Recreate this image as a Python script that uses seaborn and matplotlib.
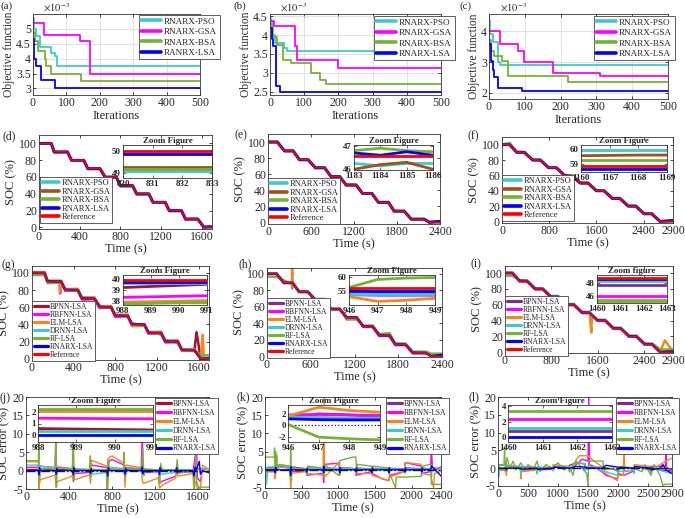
import matplotlib
matplotlib.use("Agg")
import matplotlib.pyplot as plt
from matplotlib.lines import Line2D
from matplotlib.ticker import FuncFormatter
import seaborn as sns

sns.set_theme(style="ticks")
plt.rcParams["font.family"] = ["Liberation Serif", "DejaVu Serif"]
plt.rcParams["mathtext.fontset"] = "stix"
plt.rcParams["xtick.direction"] = "in"
plt.rcParams["ytick.direction"] = "in"

W, H = 685, 518

# ---------------- colours ----------------
C_CYAN = "#3FC9C9"
C_MAG = "#FF00FF"
C_GRN = "#76B235"
C_BLUE = "#0000FF"
C_RED = "#FF0000"
C_BROWN = "#A0501E"
C_MAROON = "#A2142F"
C_PURP = "#7E2F8E"
C_ORNG = "#EE8A1D"

# ---------------- (a)-(c) objective function (x1e-3) ----------------
a_pso_x = [0, 3, 8, 22, 55, 65, 72, 500]
a_pso_y = [5.35, 5.0, 4.75, 4.4, 4.2, 4.1, 3.75, 3.75]
a_gsa_x = [0, 32, 140, 170, 500]
a_gsa_y = [5.2, 4.8, 4.58, 3.5, 3.5]
a_bsa_x = [0, 5, 15, 35, 40, 55, 145, 500]
a_bsa_y = [4.9, 4.6, 4.25, 4.0, 3.75, 3.5, 3.25, 3.25]
a_lsa_x = [0, 3, 10, 25, 65, 500]
a_lsa_y = [4.65, 4.0, 3.75, 3.3, 3.0, 3.0]

b_pso_x = [0, 3, 10, 15, 40, 50, 500]
b_pso_y = [4.45, 4.35, 4.0, 3.8, 3.65, 3.58, 3.58]
b_gsa_x = [0, 12, 72, 80, 200, 500]
b_gsa_y = [4.38, 4.25, 3.7, 3.33, 3.12, 3.12]
b_bsa_x = [0, 5, 10, 20, 38, 60, 120, 145, 165, 500]
b_bsa_y = [4.3, 4.05, 3.95, 3.75, 3.35, 3.25, 3.0, 2.8, 2.7, 2.7]
b_lsa_x = [0, 5, 10, 18, 28, 500]
b_lsa_y = [4.2, 3.9, 3.7, 2.65, 2.48, 2.48]

c_pso_x = [0, 3, 10, 25, 32, 500]
c_pso_y = [4.35, 3.9, 3.65, 3.0, 2.9, 2.9]
c_gsa_x = [0, 32, 82, 98, 178, 310, 500]
c_gsa_y = [4.0, 3.6, 3.35, 3.0, 2.65, 2.55, 2.55]
c_bsa_x = [0, 5, 15, 35, 52, 220, 500]
c_bsa_y = [3.7, 3.35, 3.2, 3.05, 2.55, 2.35, 2.35]
c_lsa_x = [0, 5, 10, 15, 25, 92, 500]
c_lsa_y = [3.6, 3.05, 2.75, 2.5, 2.15, 2.05, 2.05]

# ---------------- (d)-(f) SOC, RNARX variants ----------------
d_t = [0, 120, 150, 280, 320, 440, 480, 600, 650, 760, 800, 920, 960, 1080, 1120, 1240, 1280, 1400, 1440, 1560, 1620, 1700]
d_ref = [100, 100, 90, 90, 80, 80, 70, 70, 60, 60, 50, 50, 40, 40, 30, 30, 20, 20, 10, 10, 0, 0]
d_pso = [100, 100, 89.5, 89.6, 79.5, 79.6, 69.6, 69.7, 59.5, 59.6, 49.1, 49.2, 39.4, 39.5, 29.5, 29.6, 19.5, 19.6, 9.6, 9.7, 0.2, 0.4]
d_gsa = [100, 100, 89.6, 89.7, 79.7, 79.7, 69.8, 69.8, 59.7, 59.7, 49.2, 49.2, 39.6, 39.6, 29.7, 29.7, 19.7, 19.7, 9.7, 9.8, 0.3, 0.4]
d_bsa = [100, 100, 89.7, 89.7, 79.7, 79.8, 69.8, 69.8, 59.7, 59.8, 49.2, 49.2, 39.6, 39.7, 29.7, 29.8, 19.7, 19.8, 9.8, 9.8, 0.3, 0.4]
d_lsa = [100, 100, 89.8, 89.9, 79.9, 79.9, 69.9, 69.9, 59.9, 59.9, 49.85, 49.85, 39.9, 39.9, 29.9, 29.9, 19.9, 19.9, 9.9, 9.9, 0.1, 0.8]
di_x = [830, 831, 832, 833]
di_pso = [49.07, 49.07, 49.07, 49.07]
di_gsa = [49.25, 49.25, 49.25, 49.25]
di_bsa = [49.2, 49.2, 49.2, 49.2]
di_lsa = [49.84, 49.84, 49.84, 49.84]
di_ref = [50.0, 50.0, 50.0, 50.0]

e_t = [0, 130, 230, 350, 440, 560, 660, 790, 880, 1000, 1090, 1230, 1320, 1450, 1540, 1680, 1760, 1900, 2000, 2180, 2250, 2400]
e_ref = [100, 100, 89, 89, 78, 78, 68, 68, 57, 57, 46.55, 46.55, 36, 36, 25, 25, 14, 14, 4, 4, 0, 0]
e_pso = [100, 100, 88.8, 88.9, 77.8, 77.9, 67.8, 67.9, 56.8, 56.9, 46.25, 46.25, 35.8, 35.9, 24.8, 24.9, 13.8, 13.9, 3.8, 3.9, 0.3, 0.5]
e_gsa = [100, 100, 88.9, 89, 77.9, 78, 67.9, 68, 56.9, 57, 46.1, 46.1, 35.9, 36, 24.9, 25, 13.9, 14, 3.9, 4, 0.4, 0.5]
e_bsa = [100, 100, 89.1, 89.1, 78.1, 78.1, 68.1, 68.1, 57.1, 57.1, 46.85, 46.8, 36.1, 36.1, 25.1, 25.1, 14.1, 14.1, 4.1, 4.1, 0.2, 0.3]
e_lsa = [100, 100, 89, 89, 78, 78, 68, 68, 57, 57, 46.7, 46.6, 36, 36, 25, 25, 14, 14, 4, 4, 0, 1.5]
ei_x = [1183, 1184, 1185, 1186]
ei_pso = [46.25, 46.15, 46.25, 46.25]
ei_gsa = [46.0, 46.2, 46.3, 46.0]
ei_bsa = [46.8, 46.9, 46.8, 46.75]
ei_lsa = [46.7, 46.6, 46.75, 46.6]
ei_ref = [46.55, 46.55, 46.55, 46.55]

f_t = [0, 130, 250, 380, 520, 650, 790, 920, 1060, 1190, 1330, 1460, 1600, 1730, 1870, 2000, 2140, 2270, 2410, 2540, 2680, 2900]
f_ref = [100, 100, 90, 90, 80, 80, 70, 70, 60, 59.1, 50, 50, 40, 40, 30, 30, 20, 20, 10, 10, 0, 0]
f_pso = [100, 100, 90.3, 90.3, 80.3, 80.3, 70.3, 70.3, 60.3, 59.98, 50.3, 50.3, 40.3, 40.3, 30.3, 30.3, 20.3, 20.3, 10.3, 10.3, 0.3, 0.3]
f_gsa = [100, 100, 90.2, 90.2, 80.2, 80.2, 70.2, 70.2, 60.2, 59.6, 50.2, 50.2, 40.2, 40.2, 30.2, 30.2, 20.2, 20.2, 10.2, 10.2, 0.2, 0.2]
f_bsa = [100, 102, 90.4, 90.1, 80.1, 80.1, 70.1, 70.1, 60.1, 59.3, 50.1, 50.1, 40.1, 40.1, 30.1, 30.1, 20.1, 20.1, 10.1, 10.1, 0.1, 0.1]
f_lsa = [100, 100, 89.9, 89.9, 79.9, 79.9, 69.9, 69.9, 59.9, 58.66, 49.9, 49.9, 39.9, 39.9, 29.9, 29.9, 19.9, 19.9, 9.9, 9.9, 0, 1.5]
fi_x = [1166, 1167, 1168, 1169]
fi_labels = ["1160", "1167", "1168", "1169"]
fi_pso = [59.98, 59.98, 59.98, 59.98]
fi_gsa = [59.58, 59.6, 59.62, 59.62]
fi_bsa = [59.3, 59.3, 59.3, 59.3]
fi_ref = [58.88, 58.88, 58.88, 58.88]
fi_lsa = [58.66, 58.66, 58.66, 58.66]

# ---------------- (g)-(i) SOC, model comparison ----------------
g_t = [0, 115, 120, 150, 265, 270, 280, 320, 440, 480, 600, 650, 760, 800, 920, 960, 1080, 1120, 1240, 1280, 1400, 1440, 1560, 1580, 1620, 1640, 1650, 1700]
g_ref = [100, 100, 100, 90, 90, 90, 90, 80, 80, 70, 70, 60, 60, 50, 50, 40, 40, 30, 30, 20, 20, 10, 10, 6.7, 0, 0, 0, 0]
g_bpnn = [99.8, 99.8, 99.8, 89.5, 89.7, 89.7, 89.7, 79.5, 79.7, 69.6, 69.7, 59.5, 59.7, 49.4, 49.5, 39.3, 39.4, 29.5, 29.6, 19.6, 19.6, 9.6, 9.7, 31, 0.5, 0.4, 0.3, 0.2]
g_rbf = [100.5, 100.5, 100.5, 89, 89.5, 76, 89.5, 79, 79.5, 69, 69.5, 59, 59.5, 48.5, 49, 38.3, 38.5, 29, 29.5, 19, 19.5, 9.5, 9.8, 6.5, 0.5, 0.5, 0.5, 0.5]
g_elm = [101, 101, 101, 91, 91, 77, 91, 81, 81.5, 71.5, 71.5, 61, 61.5, 51, 51.5, 38, 38.3, 31, 31.5, 21, 21.5, 11, 11, 7, 1, 28, 1, 1]
g_drnn = [99.5, 99.5, 99.5, 89.5, 90, 90, 90, 79.5, 80, 69.5, 70, 59.5, 60, 49.5, 49.8, 39.5, 39.7, 29.5, 29.8, 19.5, 19.8, 9.5, 9.8, 6.5, 0.3, 0.3, 0.3, 0.3]
g_rf = [97.5, 97.5, 97.5, 88, 88.5, 88.5, 88.5, 81, 79, 71, 70, 62, 59, 51.5, 48, 41.5, 38, 31.5, 28, 22, 18, 10.5, 9, 8, 4, 4, 4, 4]
g_rnarx = [100, 100, 100, 90.2, 90, 90, 90, 80.2, 80, 70.2, 70, 60.2, 60, 50.2, 50, 40.2, 40, 30.2, 30, 20.2, 20, 10.2, 10, 6.7, 0, 0, 0, 0.5]
gi_x = [988, 989, 990, 991]
gi_bpnn = [39.2, 39.3, 39.4, 39.5]
gi_rbf = [38.3, 38.35, 38.4, 38.45]
gi_elm = [37.85, 37.9, 37.95, 38.0]
gi_drnn = [39.6, 39.6, 39.6, 39.6]
gi_rf = [37.7, 37.75, 37.8, 37.8]
gi_rnarx = [39.75, 39.75, 39.75, 39.75]
gi_ref = [39.9, 39.9, 39.9, 39.9]

h_t = [0, 130, 230, 340, 345, 350, 440, 560, 660, 790, 820, 880, 1000, 1090, 1230, 1320, 1450, 1540, 1680, 1760, 1900, 2000, 2180, 2250, 2400]
h_ref = [100, 100, 89, 89, 89, 89, 78, 78, 68, 68, 64.3, 57, 57, 47, 47, 36, 36, 25, 25, 14, 14, 4, 4, 0, 0]
h_bpnn = [100.3, 100.3, 88.7, 88.8, 88.8, 88.8, 77.8, 77.9, 67.8, 67.9, 64, 56.5, 56.6, 46.6, 46.7, 35.6, 35.7, 24.7, 24.8, 13.7, 13.8, 3.7, 3.8, 0.3, 0.4]
h_rbf = [100.5, 100.5, 89, 89.2, 89.2, 89.2, 78, 78.1, 68, 68.1, 64.3, 56.3, 56.4, 46.5, 46.6, 35.5, 35.6, 24.5, 24.6, 13.5, 13.6, 3.5, 3.6, 0.5, 0.5]
h_elm = [100, 100, 89.5, 89.8, 110, 89.8, 78.5, 78.5, 68.5, 68.5, 58, 56, 56.5, 47.5, 47.5, 36.5, 36.5, 25.5, 25.5, 14.5, 14.5, 4.5, 4.5, 1, 2]
h_drnn = [100.2, 100.2, 88.8, 89, 89, 89, 78, 78, 68, 68, 64.2, 56.5, 56.8, 46.8, 46.9, 35.8, 35.9, 24.8, 24.9, 13.8, 13.9, 3.8, 3.9, 0.2, 0.3]
h_rf = [96.5, 96.5, 92, 88, 82, 88, 79, 79, 69.5, 69.5, 65, 58, 58, 44.5, 44.5, 37, 37, 27, 28, 15.5, 15.5, 5.5, 5.5, 3, 3]
h_rnarx = [100, 100, 89.2, 89, 89, 89, 78.2, 78, 68.2, 68, 64.3, 57.2, 57, 47.2, 47, 36.2, 36, 25.2, 25, 14.2, 14, 4.2, 4, 0, 1.5]
hi_x = [946, 947, 948, 949]
hi_bpnn = [55.6, 54.4, 54.4, 54.4]
hi_rbf = [53.7, 53.5, 53.5, 53.5]
hi_elm = [53.0, 51.3, 51.7, 52.4]
hi_drnn = [54.1, 54.1, 54.1, 54.1]
hi_rf = [56.3, 59.2, 59.7, 59.9]
hi_rnarx = [55.0, 55.0, 55.0, 55.0]
hi_ref = [56.1, 56.1, 56.1, 56.1]

i_t = [0, 130, 250, 380, 520, 650, 790, 920, 1060, 1190, 1330, 1460, 1490, 1500, 1600, 1730, 1870, 2000, 2140, 2270, 2410, 2540, 2680, 2760, 2900]
i_ref = [100, 100, 90, 90, 80, 80, 70, 70, 60, 60, 50, 50, 47.9, 47.1, 40, 40, 30, 30, 20, 20, 10, 10, 0, 0, 0]
i_bpnn = [100.3, 100.3, 89.8, 89.9, 79.8, 79.9, 69.8, 69.9, 59.8, 59.9, 49.7, 49.8, 47.5, 46.8, 39.8, 39.9, 29.8, 29.9, 19.8, 19.9, 9.8, 9.9, 0.2, 0.3, 0.5]
i_rbf = [100.5, 100.5, 89.5, 89.6, 79.5, 79.6, 69.5, 69.6, 59.5, 59.6, 49.5, 49.5, 46.5, 46, 39.5, 39.6, 29.5, 29.6, 19.5, 19.6, 9.5, 9.6, 0.3, 0.5, 0.5]
i_elm = [100, 100, 90.5, 90.5, 80.5, 80.5, 70.5, 70.5, 60.5, 60.5, 50.5, 50.5, 25, 46.5, 40.5, 40.5, 30.5, 30.5, 20.5, 20.5, 10.5, 10.5, 1, 15, 1]
i_drnn = [100.2, 100.2, 90, 90, 80, 80, 70, 70, 60, 60, 50, 50, 47.8, 47, 40, 40, 30, 30, 20, 20, 10, 10, 0.2, 0.2, 0.2]
i_rf = [96.5, 96.5, 91, 91, 81, 81, 71, 71, 61, 61, 51, 51, 45, 45, 41, 41, 31, 31, 21, 21, 11, 11, 3.5, 3.5, 3.5]
i_rnarx = [100, 100, 90.2, 90, 80.2, 80, 70.2, 70, 60.2, 60, 50.2, 50, 47.9, 47.1, 40.2, 40, 30.2, 30, 20.2, 20, 10.2, 10, 0, 0.5, 1]
ii_x = [1460, 1461, 1462, 1463]
ii_bpnn = [47.75, 47.75, 47.75, 47.75]
ii_rbf = [46.0, 46.0, 46.0, 46.0]
ii_elm = [45.35, 45.35, 45.35, 45.35]
ii_drnn = [48.35, 48.35, 48.35, 48.35]
ii_rf = [45.15, 45.15, 45.15, 45.15]
ii_rnarx = [48.6, 48.6, 48.6, 48.6]
ii_ref = [48.75, 48.75, 48.75, 48.75]

# ---------------- (j)-(l) SOC error (t, error) points ----------------
j_bpnn = [(0, 0.3), (115, 0.3), (120, -1), (130, 0.5), (270, 0.2), (280, -0.8), (290, 0.4), (430, 0.2), (440, -0.6), (450, 0.3), (590, 0.2), (600, -0.5), (610, 0.3), (750, 0.1), (760, -0.6), (770, 0.4), (910, 0.2), (920, -0.5), (930, 0.4), (1070, 0.2), (1080, -0.6), (1090, 0.3), (1230, 0.1), (1240, -0.5), (1250, 0.2), (1390, 0.1), (1400, -0.4), (1410, 0.3), (1550, 0.1), (1560, -1.5), (1575, 0.5), (1700, 0.3)]
j_rbf = [(0, 0.9), (115, 0.9), (120, -2), (130, 1.2), (270, 0.8), (278, 10.5), (284, -1), (300, 1), (430, 0.5), (440, -3), (450, -0.8), (590, -0.5), (600, -1.5), (610, 1.5), (750, 0.8), (760, -3), (770, 2.5), (800, 3), (910, 1.5), (920, -3), (930, 0.8), (1070, 0.5), (1080, 9.5), (1088, -1), (1100, -0.5), (1230, -0.3), (1240, -3.5), (1255, -3), (1390, -1.5), (1400, 0.5), (1410, -0.5), (1550, -0.3), (1585, 6.5), (1592, -2), (1620, -3), (1640, 0.5), (1700, 0.3)]
j_elm = [(0, 2.4), (115, 2.4), (120, -5), (130, -2.5), (270, -1.2), (278, -4.5), (290, -3), (430, -1.5), (440, 8.5), (448, -2.5), (590, -1.2), (600, -3.5), (610, 2.8), (750, 1.2), (760, -5), (770, 3.5), (800, 4), (910, 2), (920, -4.5), (930, 1.5), (1070, 0.8), (1080, -2.5), (1090, -3.5), (1230, -2), (1240, -4.8), (1255, -4.2), (1390, -2), (1400, 1.5), (1410, -1.5), (1550, -0.8), (1560, -5), (1575, -3), (1620, -5), (1640, 1.5), (1700, 0.3)]
j_drnn = [(0, 1.5), (115, 1.5), (120, -1.5), (130, 1.2), (270, 0.8), (280, -1.5), (290, 0.8), (430, 0.5), (440, 1.5), (450, 0.5), (590, 0.3), (600, -1.8), (610, -1), (750, -0.5), (760, -2), (770, 1), (910, 0.5), (920, -1.5), (930, 0.6), (1070, 0.3), (1080, -1), (1090, 0.5), (1230, 0.2), (1240, -1.5), (1250, -1), (1390, -0.5), (1400, 0.8), (1410, 0.3), (1550, 0.2), (1560, -1.5), (1575, 0.5), (1700, 0.3)]
j_rf = [(0, 2.7), (115, 2.7), (120, 8.5), (125, -3), (135, 0.6), (270, 0.4), (278, 9), (283, -4.5), (290, 0.8), (430, 0.3), (438, 8), (445, -2.5), (455, 0.4), (590, 0.3), (598, 4), (605, -1.5), (615, 0.3), (745, 0.2), (752, -5), (758, 3), (770, 0.4), (905, 0.3), (912, 5), (920, -2), (935, 0.5), (1075, 0.3), (1085, 6), (1095, -1.5), (1110, 0.3), (1235, 0.2), (1242, -3.5), (1250, 2), (1265, 0.3), (1395, 0.2), (1405, 3), (1415, -0.8), (1555, 0.2), (1565, -5), (1575, 4), (1590, -5), (1620, -4.5), (1700, -4.5)]
j_rnarx = [(0, 0), (115, 0), (120, -1.2), (125, 0.8), (135, 0), (270, 0), (280, -1), (285, 0.6), (295, 0), (430, 0), (440, -1.2), (445, 0.8), (455, 0), (590, 0), (600, -0.8), (605, 0.5), (615, 0), (750, 0), (760, -1.5), (765, 0.8), (775, 0), (910, 0), (920, -1), (925, 0.6), (935, 0), (1070, 0), (1080, 1), (1085, -0.8), (1095, 0), (1230, 0), (1240, -1), (1245, 0.8), (1255, 0), (1390, 0), (1400, 0.8), (1405, -0.6), (1415, 0), (1550, 0), (1560, -1.5), (1570, 1), (1580, 0), (1610, 2.5), (1620, -1), (1640, 0), (1700, -0.6)]
ji_x = [988, 989, 990, 991]
ji_bpnn = [0.57, 0.53, 0.49, 0.45]
ji_rbf = [1.45, 1.43, 1.41, 1.4]
ji_elm = [2.06, 2.06, 2.06, 2.06]
ji_drnn = [0.34, 0.34, 0.34, 0.34]
ji_rf = [2.23, 2.23, 2.23, 2.23]
ji_rnarx = [0.06, 0.06, 0.06, 0.06]

k_bpnn = [(0, 0.5), (130, 0.5), (140, -0.8), (150, 1), (340, 0.5), (350, -1), (360, 0.8), (560, 0.3), (570, -0.6), (580, 0.5), (790, 0.3), (800, 1.5), (810, 0.5), (1010, 0.3), (1020, -0.8), (1030, 0.6), (1230, 0.3), (1240, -0.5), (1250, 0.5), (1450, 0.2), (1460, -0.6), (1470, 0.4), (1680, 0.2), (1690, -0.8), (1700, 0.4), (1900, 0.3), (1910, -0.5), (1920, 0.5), (2130, 0.3), (2140, -0.8), (2150, 0.5), (2260, 0.2), (2270, 4), (2280, 0.2), (2400, 0.3)]
k_rbf = [(0, -0.5), (130, -0.5), (140, -2), (150, 1), (340, 0.5), (350, -1.5), (360, -0.5), (560, -0.3), (570, -1.5), (700, -1.2), (790, -1), (800, -3.5), (810, 1.5), (1010, 1.8), (1020, -1), (1030, 0.5), (1230, 0.3), (1240, -1.5), (1450, -0.5), (1460, -1), (1600, -2.5), (1690, -3), (1700, -1.5), (1900, -0.5), (1910, 2), (2130, 1), (2140, -1), (2260, -0.5), (2270, 5.5), (2280, 0), (2400, 0.8)]
k_elm = [(0, -0.5), (130, -0.5), (140, -2.5), (150, 1.5), (340, 0.8), (350, -5), (360, -1), (560, -0.5), (570, -1), (790, -1.5), (805, 20), (812, -2), (1010, 2), (1020, -1.5), (1030, 0.5), (1230, 0.3), (1240, -1), (1450, -1), (1460, -1.5), (1690, -3), (1700, -2), (1900, -0.5), (1910, 2), (2130, 1.5), (2140, -1), (2260, -1.5), (2300, -5), (2310, -1), (2400, -0.5)]
k_drnn = [(0, 4), (20, -4), (40, 0.8), (130, 0.8), (140, -1), (150, 0.8), (340, 0.5), (350, -1.5), (360, 0.3), (560, 0.3), (570, -1), (580, 0.3), (790, 0.3), (800, -1.5), (810, 0.5), (1010, 0.3), (1020, -1.2), (1030, 0.4), (1230, 0.3), (1240, -0.8), (1250, 0.3), (1450, 0.2), (1460, -1), (1470, 0.3), (1680, 0.2), (1690, -1.2), (1700, 0.3), (1900, 0.2), (1910, -1), (1920, 0.3), (2130, 0.2), (2140, -1.5), (2150, 0.3), (2260, 0.2), (2270, -2), (2280, 0.5), (2400, 0.5)]
k_rf = [(0, 3.5), (125, 3.5), (130, 6), (135, -1), (145, 5), (150, 0.5), (160, 4), (170, 0), (200, 1.5), (340, 1), (345, -2), (350, 5.5), (360, -3), (370, 0.5), (560, 0.3), (570, -1.5), (580, 1), (790, 0.5), (800, -2), (810, 1.5), (1000, -1.5), (1010, -1.5), (1020, 2.5), (1100, 3), (1200, 3.5), (1240, 3.5), (1250, -1), (1260, 1.5), (1450, 1), (1460, -1), (1470, 1), (1680, 0.5), (1700, -1), (1780, -5), (1790, -2), (1900, -2), (2130, -1.8), (2140, 1), (2260, 1.5), (2270, -4), (2400, -4)]
k_rnarx = [(0, 0), (130, 0), (140, -0.8), (145, 0.6), (155, 0), (340, 0), (350, -1.5), (355, 0.8), (365, 0), (560, 0), (570, -0.6), (575, 0.4), (585, 0), (790, 0), (800, -0.8), (805, 1), (815, 0), (1010, 0), (1020, -0.8), (1025, 0.6), (1035, 0), (1230, 0), (1240, -0.5), (1245, 0.5), (1255, 0), (1450, 0), (1460, -0.8), (1465, 0.5), (1475, 0), (1680, 0), (1690, -0.8), (1695, 0.6), (1705, 0), (1900, 0), (1910, -0.6), (1915, 0.5), (1925, 0), (2130, 0), (2140, -0.6), (2145, 0.5), (2155, 0), (2260, 0), (2270, 1), (2300, 0.5), (2400, -1.7)]
ki_x = [946, 947, 948, 949]
ki_bpnn = [1.2, 2.1, 1.9, 1.6]
ki_rbf = [1.9, 2.0, 1.9, 1.8]
ki_elm = [1.7, 3.3, 2.7, 2.4]
ki_drnn = [1.5, 1.45, 1.35, 1.3]
ki_rf = [0.2, -2.1, -2.4, -2.6]
ki_rnarx = [1.2, 1.05, 1.0, 1.0]

l_bpnn = [(0, -0.3), (130, -0.3), (140, -1), (150, 0.2), (370, 0), (380, -0.8), (390, 0.2), (640, 0), (650, -1.5), (660, 0.2), (910, 0), (920, -0.5), (930, 0.3), (1180, 0.2), (1190, 0.8), (1300, 1.5), (1450, 1.2), (1460, -0.5), (1470, 0.3), (1720, 0), (1730, -0.5), (1740, 0.2), (1990, -0.5), (2000, -1), (2010, 0), (2260, 0), (2270, -0.5), (2280, 0.2), (2530, 0), (2540, -1), (2550, 0.2), (2700, -0.5), (2900, -0.8)]
l_rbf = [(0, -0.5), (130, -0.5), (140, 1.5), (150, 0.5), (370, 0.3), (380, -1), (390, -0.5), (640, -0.5), (650, -1.2), (660, -0.5), (910, -0.3), (920, 0.5), (1180, 0.3), (1190, -0.5), (1300, 1), (1400, 2.5), (1500, 2), (1515, 20), (1525, 1), (1600, 0.5), (1730, -1), (1800, -2), (1990, -3), (2000, -1.5), (2100, -2), (2260, -0.8), (2270, 0.5), (2530, -0.5), (2540, 0.5), (2790, 0.5), (2800, 6), (2810, 0), (2900, -0.5)]
l_elm = [(0, -0.3), (130, -0.3), (140, -2), (150, 0.5), (370, 0.3), (380, -3), (390, -1), (640, -0.5), (650, -1.5), (660, 0), (910, 0), (920, 1), (1180, 0.5), (1190, -1), (1250, 1), (1350, 3.5), (1500, 3.5), (1600, 2), (1730, 0.5), (1800, -1.5), (1990, -3.5), (2000, -2), (2090, -2), (2100, 12), (2110, -1), (2260, -0.5), (2270, 1), (2530, 0.5), (2540, -1), (2700, 1), (2800, 2), (2900, 2.8)]
l_drnn = [(0, -2.5), (15, -2.5), (30, 0.8), (130, 0.8), (140, -1), (150, 0.8), (370, 0.5), (380, -1.5), (390, 0.5), (640, 0.3), (650, -1.5), (660, 0.3), (910, 0.3), (920, -0.8), (930, 0.3), (1180, 0.3), (1190, -1), (1300, 1.5), (1450, 1.3), (1460, -0.5), (1470, 0.5), (1720, 0.3), (1730, -1), (1800, -1), (1990, -2), (2000, -1), (2260, -0.5), (2270, -1.5), (2280, 0), (2530, 0), (2540, -1.5), (2550, 0), (2900, -1.5)]
l_rf = [(0, 1), (100, 1), (110, 6), (120, -1), (150, 3), (200, 0), (250, 2), (300, -0.5), (380, 1.5), (450, -0.5), (500, 1), (600, 0), (650, 2), (700, -1), (800, 1), (900, 0), (1000, 1.5), (1100, -0.5), (1190, 0.5), (1250, -2), (1300, 2), (1400, 0), (1480, -1.5), (1500, -5), (1510, 2), (1600, 2), (1750, 2), (1760, -0.5), (1900, 0), (2000, -1), (2050, 0.5), (2270, 0), (2400, -1), (2450, 1), (2550, -2), (2600, 1), (2700, -2), (2750, -5), (2780, -4.5), (2900, -4.5)]
l_rnarx = [(0, 0), (130, 0), (140, -0.5), (150, 0), (380, 0), (390, -0.3), (650, 0), (660, -0.3), (920, 0), (930, 0.3), (1190, 0), (1300, 0.5), (1460, 0.3), (1470, 0), (1730, 0), (1800, 0.8), (2000, 0.3), (2270, 0), (2280, 0.5), (2540, 0), (2550, -0.5), (2700, 0), (2750, 1), (2800, -0.5), (2900, -1.5)]
li_x = [1460, 1461, 1462, 1463]
li_bpnn = [0.8, 0.8, 0.8, 0.8]
li_rbf = [2.3, 2.3, 2.3, 2.3]
li_drnn = [1.2, 1.2, 1.2, 1.2]
li_rf = [3.3, 3.3, 3.3, 3.3]
li_rnarx = [0.0, 0.0, 0.0, 0.0]

LAB_OPT = ["RNARX-PSO", "RNARX-GSA", "RNARX-BSA", "RNARX-LSA"]
LAB_SOC = ["RNARX-PSO", "RNARX-GSA", "RNARX-BSA", "RNARX-LSA", "Reference"]
LAB_CMP = ["BPNN-LSA", "RBFNN-LSA", "ELM-LSA", "DRNN-LSA", "RF-LSA", "RNARX-LSA", "Reference"]

fig = plt.figure(figsize=(6.85, 5.18), dpi=100)


def rect(l, t, r, b):
    return [l / W, 1 - b / H, (r - l) / W, (b - t) / H]


def line(ax, x, y, color, lw=1.2, **kw):
    sns.lineplot(x=list(x), y=list(y), ax=ax, color=color, linewidth=lw,
                 estimator=None, sort=False, **kw)


def pts(ax, p, color, lw=1.0):
    line(ax, [a for a, _ in p], [b for _, b in p], color, lw=lw)


fmt = FuncFormatter(lambda v, pos: f"{v:g}")


def style(ax, xlim, ylim, xticks, yticks, xlabel, ylabel, grid=False, ylfs=9):
    ax.set_xlim(xlim)
    ax.set_ylim(ylim)
    ax.set_xticks(xticks)
    ax.set_yticks(yticks)
    ax.xaxis.set_major_formatter(fmt)
    ax.yaxis.set_major_formatter(fmt)
    ax.tick_params(labelsize=8.5, length=2.5, width=0.6, pad=1.5, top=True, right=True)
    ax.set_xlabel(xlabel, fontsize=9, labelpad=0.5)
    ax.set_ylabel(ylabel, fontsize=ylfs, labelpad=1)
    for s in ax.spines.values():
        s.set_linewidth(0.6)
        s.set_color("#333333")
    if grid:
        ax.grid(True, color="#dcdcdc", lw=0.6)


def legend(ax, labels, colors, ul, fs=6.0, sp=0.1, hl=2.0, lw=2.6):
    handles = [Line2D([], [], color=c, lw=lw) for c in colors]
    leg = ax.legend(handles, labels, loc="upper left",
                    bbox_to_anchor=(ul[0] / W, 1 - ul[1] / H),
                    bbox_transform=fig.transFigure, fontsize=fs,
                    handlelength=hl, handletextpad=0.3, labelspacing=sp,
                    borderpad=0.25, borderaxespad=0, fancybox=False,
                    framealpha=1, edgecolor="#444444")
    leg.get_frame().set_linewidth(0.6)
    leg.set_zorder(10)


def inset(box, x, series, colors, ylim, yticks, xticklabels=None,
          title="Zoom Figure", zero=False):
    ax = fig.add_axes(rect(*box))
    if zero:
        ax.axhline(0, color="k", ls=":", lw=0.9)
    for ys, c in zip(series, colors):
        line(ax, x, ys, c, lw=2.0)
    ax.set_xlim(x[0], x[-1])
    ax.set_ylim(ylim)
    ax.set_xticks(x)
    ax.set_yticks(yticks)
    if xticklabels is None:
        ax.xaxis.set_major_formatter(fmt)
    else:
        ax.set_xticklabels(xticklabels)
    ax.yaxis.set_major_formatter(fmt)
    ax.tick_params(labelsize=6.5, length=2, width=0.5, pad=1.5, top=True, right=True)
    for lab in ax.get_xticklabels() + ax.get_yticklabels():
        lab.set_fontweight("bold")
    ax.set_xlabel("")
    ax.set_ylabel("")
    ax.set_title(title, fontsize=6.5, fontweight="bold", pad=1.5)
    for s in ax.spines.values():
        s.set_linewidth(0.6)
        s.set_color("#333333")
    return ax


def letter(x, y, s, fs=8.5):
    fig.text(x / W, 1 - y / H, s, fontsize=fs, ha="center", va="center")


# ---------- row 1 ----------
OPT_COL = [C_CYAN, C_MAG, C_GRN, C_BLUE]
for box, data, lab, ylim, yt, lgpos, ltr, labs in [
    ((33, 14, 200, 95), [(a_pso_x, a_pso_y), (a_gsa_x, a_gsa_y), (a_bsa_x, a_bsa_y), (a_lsa_x, a_lsa_y)],
     "(a)", (2.78, 5.5), [3, 3.5, 4, 4.5, 5], (139, 15), (7, 6),
     ["RNARX-PSO", "RNARX-GSA", "RNARX-BSA", "RANRX-LSA"]),
    ((270, 14, 441, 95), [(b_pso_x, b_pso_y), (b_gsa_x, b_gsa_y), (b_bsa_x, b_bsa_y), (b_lsa_x, b_lsa_y)],
     "(b)", (2.41, 4.56), [2.5, 3, 3.5, 4, 4.5], (374, 16), (240, 6), LAB_OPT),
    ((489, 14, 668, 99), [(c_pso_x, c_pso_y), (c_gsa_x, c_gsa_y), (c_bsa_x, c_bsa_y), (c_lsa_x, c_lsa_y)],
     "(c)", (1.8, 4.56), [2, 3, 4], (594, 16), (466, 6), LAB_OPT),
]:
    ax = fig.add_axes(rect(*box))
    for (xx, yy), c in zip(data, OPT_COL):
        line(ax, xx, yy, c, lw=1.3, drawstyle="steps-post")
    style(ax, (0, 500), ylim, [0, 100, 200, 300, 400, 500], yt, "Iterations",
          "Objective function", grid=True, ylfs=8.3)
    ax.text(0.06, 1.0, r"$\times10^{-3}$", transform=ax.transAxes, fontsize=7.5,
            ha="left", va="bottom")
    legend(ax, labs, OPT_COL, lgpos, fs=6.6, sp=0.22, hl=2.2)
    letter(ltr[0], ltr[1], lab, fs=8)

# ---------- row 2 ----------
SOC_COL = [C_CYAN, C_BROWN, C_GRN, C_BLUE, C_RED]
row2 = [
    ((39, 135, 212, 229), d_t, [d_pso, d_gsa, d_bsa, d_lsa, d_ref], (0, 1700),
     [0, 400, 800, 1200, 1600], (40, 177), (9, 136), "(d)",
     ((123, 145, 212, 178), di_x, [di_pso, di_gsa, di_bsa, di_lsa, di_ref], (48.78, 50.25), [49, 50], None)),
    ((268, 134, 440, 224), e_t, [e_pso, e_gsa, e_bsa, e_lsa, e_ref], (0, 2400),
     [0, 600, 1200, 1800, 2400], (268, 178), (241, 135), "(e)",
     ((354, 145, 433, 170), ei_x, [ei_pso, ei_gsa, ei_bsa, ei_lsa, ei_ref], (45.97, 47.04), [46, 47], None)),
    ((502, 137, 673, 223), f_t, [f_pso, f_gsa, f_bsa, f_lsa, f_ref], (0, 2900),
     [0, 800, 1600, 2400, 2900], (502, 175), (473, 136), "(f)",
     ((581, 145, 667, 172), fi_x, [fi_pso, fi_gsa, fi_bsa, fi_lsa, fi_ref], (58.48, 60.3), [59, 60], fi_labels)),
]
for box, tt, ser, xlim, xt, lgpos, ltr, lab, ins in row2:
    ax = fig.add_axes(rect(*box))
    for ys, c in zip(ser[:4], SOC_COL[:4]):
        line(ax, tt, ys, c, lw=2.0)
    line(ax, tt, ser[4], C_RED, lw=1.2)
    style(ax, xlim, (-2, 110), xt, [0, 20, 40, 60, 80, 100], "Time (s)", "SOC (%)")
    legend(ax, LAB_SOC, SOC_COL, lgpos, fs=6.0, sp=0.06, hl=2.0)
    letter(ltr[0], ltr[1], lab)
    ib, ix, iser, iyl, iyt, ixl = ins
    inset(ib, ix, iser, SOC_COL, iyl, iyt, ixl)

# ---------- row 3 ----------
CMP_COL_G = [C_MAROON, C_MAG, C_ORNG, C_CYAN, C_GRN, C_BLUE, C_RED]
CMP_COL = [C_PURP, C_MAG, C_ORNG, C_CYAN, C_GRN, C_BLUE, C_RED]
row3 = [
    ((32, 266, 209, 360), g_t, [g_bpnn, g_rbf, g_elm, g_drnn, g_rf, g_rnarx, g_ref], (0, 1700),
     [0, 400, 800, 1200, 1600], (32, 301), (8, 265), "(g)", CMP_COL_G, (-1.5, 108),
     ((123, 275, 207, 305), gi_x, [gi_bpnn, gi_rbf, gi_elm, gi_drnn, gi_rf, gi_rnarx, gi_ref],
      (37.6, 40.35), [38, 39, 40], "Zoom Figure")),
    ((267, 268, 442, 357), h_t, [h_bpnn, h_rbf, h_elm, h_drnn, h_rf, h_rnarx, h_ref], (0, 2400),
     [0, 600, 1200, 1800, 2400], (267, 298), (245, 264), "(h)", CMP_COL, (-1, 107),
     ((349, 275, 435, 305), hi_x, [hi_bpnn, hi_rbf, hi_elm, hi_drnn, hi_rf, hi_rnarx, hi_ref],
      (50.0, 60.8), [55, 60], "Zoom Figure")),
    ((505, 266, 673, 353), i_t, [i_bpnn, i_rbf, i_elm, i_drnn, i_rf, i_rnarx, i_ref], (0, 2900),
     [0, 800, 1600, 2400, 2900], (505, 296), (476, 264), "(i)", CMP_COL, (-1, 109),
     ((597, 275, 667, 303), ii_x, [ii_bpnn, ii_rbf, ii_elm, ii_drnn, ii_rf, ii_rnarx, ii_ref],
      (44.9, 49.25), [46, 48], "Zoom figure")),
]
for box, tt, ser, xlim, xt, lgpos, ltr, lab, cols, ylim, ins in row3:
    ax = fig.add_axes(rect(*box))
    for ys, c in zip(ser[:6], cols[:6]):
        line(ax, tt, ys, c, lw=1.8)
    line(ax, tt, ser[6], C_RED, lw=1.2)
    style(ax, xlim, ylim, xt, [0, 20, 40, 60, 80, 100], "Time (s)", "SOC (%)")
    legend(ax, LAB_CMP, cols, lgpos, fs=5.5, sp=0.0, hl=1.8, lw=2.3)
    letter(ltr[0], ltr[1], lab)
    ib, ix, iser, iyl, iyt, ttl = ins
    inset(ib, ix, iser, cols, iyl, iyt, None, title=ttl)

# ---------- row 4 ----------
row4 = [
    ((26, 397, 209, 489), [j_bpnn, j_rbf, j_elm, j_drnn, j_rf, j_rnarx], (0, 1700),
     [0, 400, 800, 1200, 1600], (155, 398), (5, 398), "(j)", CMP_COL_G,
     ((38, 405, 153, 442), ji_x, [ji_bpnn, ji_rbf, ji_elm, ji_drnn, ji_rf, ji_rnarx],
      (-0.57, 2.57), [0, 1, 2])),
    ((265, 397, 441, 488), [k_bpnn, k_rbf, k_elm, k_drnn, k_rf, k_rnarx], (0, 2400),
     [0, 500, 1000, 1500, 2000, 2400], (386, 398), (243, 397), "(k)", CMP_COL,
     ((288, 405, 380, 442), ki_x, [ki_bpnn, ki_rbf, ki_elm, ki_drnn, ki_rf, ki_rnarx],
      (-2.98, 3.7), [-2, 0, 2])),
    ((498, 397, 672, 486), [l_bpnn, l_rbf, l_elm, l_drnn, l_rf, l_rnarx], (0, 2900),
     [0, 500, 1000, 1500, 2000, 2500, 2900], (616, 398), (474, 397), "(l)", CMP_COL,
     ((508, 405, 612, 442), li_x, [li_bpnn, li_rbf, li_drnn, li_rf, li_rnarx],
      (-0.6, 4.1), [0, 2, 4])),
]
for k, (box, ser, xlim, xt, lgpos, ltr, lab, cols, ins) in enumerate(row4):
    ax = fig.add_axes(rect(*box))
    for p, c in zip(ser, cols[:6]):
        pts(ax, p, c, lw=1.0)
    ax.axhline(0, color="k", ls="-.", lw=1.0, zorder=5)
    style(ax, xlim, (-5, 20), xt, [-5, 0, 5, 10, 15, 20], "Time (s)", "SOC error (%)")
    legend(ax, LAB_CMP[:6], cols[:6], lgpos, fs=5.5, sp=0.12, hl=1.8, lw=2.3)
    letter(ltr[0], ltr[1], lab)
    ib, ix, iser, iyl, iyt = ins
    icols = cols[:6] if k < 2 else [cols[0], cols[1], cols[3], cols[4], cols[5]]
    inset(ib, ix, iser, icols, iyl, iyt, None, zero=True)

fig.savefig("out.png", dpi=100)
